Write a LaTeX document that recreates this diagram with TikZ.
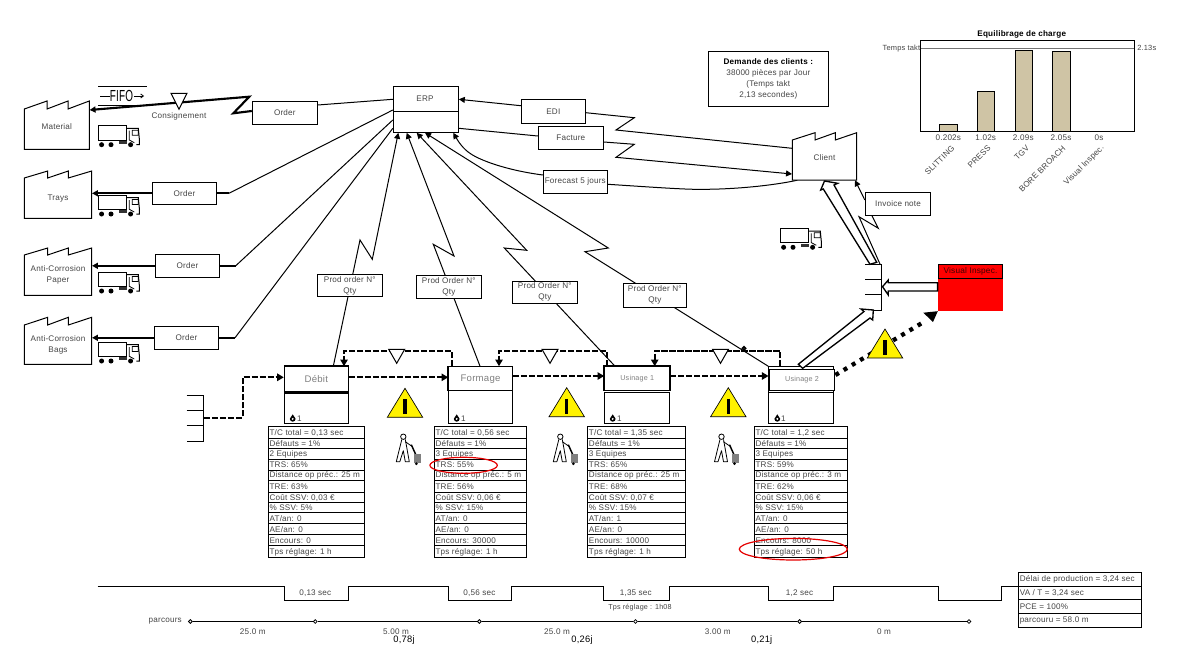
\documentclass[tikz,border=0pt]{standalone}
\usepackage{fontspec}
\setmainfont[LetterSpace=2.5]{Liberation Sans}
\usetikzlibrary{arrows.meta,calc}
\pgfdeclarelayer{bglines}
\pgfsetlayers{bglines,main}
\definecolor{txtgray}{HTML}{454545}
\definecolor{namegray}{HTML}{808080}
\definecolor{bartan}{HTML}{CFC4A5}
\tikzset{
  base/.style={font=\fontsize{6.1}{8.2}\selectfont,text=txtgray,inner sep=0pt},
  boxn/.style={base,draw=black,fill=white,align=center,line width=.75pt},
  txt/.style={base,align=center},
  conn/.style={line width=.75pt},
  tip/.style={-{Triangle[length=4.5pt,width=4.5pt]}},
  heavy/.style={line width=1.6pt},
  flow/.style={line width=1.5pt,dash pattern=on 4.6pt off 1.4pt},
  flowtip/.style={-{Triangle[length=5pt,width=5.5pt]}},
  warn/.style={draw=black,fill=yellow,line width=.5pt},
  push/.style={draw=black,fill=white,line width=1pt,line join=miter},
}
\newcommand\bx[6][]{\node[boxn,minimum width={(#5-#3)*0.75pt},minimum height={(#6-#4)*0.75pt},#1] (#2) at ({(#3+#5)/2},{(#4+#6)/2})}
\newcommand\tx[4][]{\node[txt,#1] (#2) at (#3) {#4};}
\newcommand\factory[9]{%
  \draw[line width=.75pt,fill=white] (#2,#5) -- (#7,#4) -- (#7,#5) -- (#8,#4) -- (#8,#5) -- (#3,#4) -- (#3,#6) -- (#2,#6) -- cycle;
  \node[txt,minimum width={(#3-#2)*0.75pt},minimum height={(#6-#5)*0.75pt}] (#1) at ({(#2+#3)/2},{(#5+#6)/2}) {#9};}
\newcommand\truck[2]{\begin{scope}[shift={(#1,#2)}]
  \draw[line width=.75pt,fill=white] (0,0) rectangle (28.3,14.3);
  \draw[line width=.75pt] (28.3,2.7) -- (40,2.7) -- (41,13) -- (41,19) -- (38,19);
  \draw[line width=.6pt] (34,4.5) rectangle (40,9.5) (31,5) -- (31,14.3) -- (36,17);
  \fill[black!80] (21,15.3) rectangle (28.3,18.3);
  \fill (3.3,19) circle (2.5) (12.7,19) circle (2.5) (32.3,19) circle (2.5);
\end{scope}}
\newcommand\invtri[3]{\draw[line width=.75pt,fill=white] ({#1-8},#2) -- ({#1+8},#2) -- (#1,#3) -- cycle;}
\newcommand\warning[3]{\begin{scope}[shift={(#1,#2)}]
  \draw[warn] (-17.7,29) -- (17.7,29) -- (0,0) -- cycle;
  \draw[line width=#3,line cap=butt] (0,11) -- (0,26);
\end{scope}}
\newcommand\walker[2]{\begin{scope}[shift={(#1,#2)}]
  \draw[line width=.6pt] (0,0) circle (2.7);
  \draw[line width=.6pt,line join=round] (-1.5,2.7) -- (-7,25) -- (-3.5,25) -- (0,14) -- (2,25) -- (6,25) -- (2,2.7);
  \draw[line width=.6pt] (2,5) -- (8.5,9.5);
  \draw[line width=1.1pt] (8,8) -- (12.5,18);
  \fill[black!50] (10.7,17) rectangle (17.7,26.5);
  \fill (13,27) circle (1.5);
\end{scope}}
\newcommand\opicon[4]{\fill (#2,{#3-4}) -- ({#2+2.9},{#3+.5}) arc (0:180:2.9) -- cycle;
  \fill[white] (#2,{#3+.6}) circle (1.1);
  \node[txt] (#1) at (#4,#3) {1};}
\newcommand\shipbox[4]{%
  \node[minimum width=0pt,minimum height=0pt,inner sep=0pt] (#1) at (#3,{#4+22}) {};
  \draw[line width=.75pt] (#2,#4) -- (#3,#4) -- (#3,{#4+45.5}) -- (#2,{#4+45.5}) (#2,{#4+14.5}) -- (#3,{#4+14.5}) (#2,{#4+30}) -- (#3,{#4+30});}
\newcommand\datatable[4]{%
  \foreach \t [count=\i] in {#4} {
    \pgfmathsetmacro\ya{{426.3,438.3,448.3,459.3,470,480.3,492.3,502.3,512.7,523.7,534.7,545.7,557.3}[\i-1]}
    \pgfmathsetmacro\yb{{426.3,438.3,448.3,459.3,470,480.3,492.3,502.3,512.7,523.7,534.7,545.7,557.3}[\i]}
    \draw[line width=.75pt] (#2,\ya) rectangle (#3,\yb);
    \node[txt,anchor=west] (#1r\i) at ({#2+1},{(\ya+\yb)/2+.5}) {\t};
  }}
\begin{document}
\begin{tikzpicture}[x=0.75pt,y=-0.75pt,line width=.75pt]
\useasboundingbox (0,0) rectangle (1185,653);
\begin{pgfonlayer}{bglines}
\fill[white] (0,0) rectangle (1185,653);
\end{pgfonlayer}

% ---------- factories
\factory{material}{24.3}{89.3}{101}{109}{149.3}{47}{68}{\raisebox{3.5pt}{Material}}
\factory{trays}{24.3}{91.7}{171}{178}{218.3}{47.7}{68.3}{Trays}
\factory{paper}{24.3}{91.7}{248}{255}{295.3}{47.7}{68.3}{Anti-Corrosion\\Paper}
\factory{bags}{24.3}{91.7}{317.3}{325}{364.3}{47.7}{68.3}{Anti-Corrosion\\Bags}
\factory{client}{792.3}{856.7}{132.7}{140}{180}{815}{835.3}{\raisebox{3pt}{Client}}

% ---------- trucks
\truck{98.3}{125.7}
\truck{98.3}{195}
\truck{98.3}{272}
\truck{98.3}{342}
\truck{780.3}{228.3}

% ---------- FIFO
\draw[line width=.75pt] (98.3,86) -- (146.7,86) (98.3,105) -- (146.7,105);
\node[txt,text=black,font=\fontsize{12}{12}\selectfont,xscale=.62] (fifo) at (121.5,96) {FIFO};
\draw[line width=.6pt] (100,96) -- (110,96);
\draw[line width=.6pt,-{Straight Barb[length=2pt,width=3pt]}] (134,96) -- (144,96);
\tx{consig}{179,116}{Consignement}

% ---------- information boxes
\bx{erp}{393.3}{86.7}{458.3}{132.3} {};
\draw[line width=.75pt] (erp.west |- 0,111.3) -- (erp.east |- 0,111.3);
\tx{erplabel}{425,99}{ERP}
\bx{ordm}{252.3}{101.3}{317.3}{124.3} {Order};
\bx{ordt}{152.3}{182.3}{216.7}{204.3} {Order};
\bx{ordp}{155.3}{254.3}{219.7}{277.3} {Order};
\bx{ordb}{154.3}{326.3}{218.7}{349.3} {Order};
\bx{pod}{317.3}{274.3}{382.3}{296.7} {Prod order N°\\Qty};
\bx{pof}{416.3}{275.3}{481.3}{298.7} {Prod Order N°\\Qty};
\bx{pou}{512.3}{281.3}{577.3}{303.3} {Prod Order N°\\Qty};
\bx{pov}{623.3}{283.3}{686.3}{307.3} {Prod Order N°\\Qty};
\bx{edi}{521.3}{99.3}{585.3}{123.3} {EDI};
\bx{fact}{538.3}{126.3}{603.3}{149.3} {Facture};
\bx{fore}{543.3}{170.3}{607.3}{193.3} {Forecast 5 jours};
\bx{inv}{865.3}{192.7}{930.7}{215.3} {Invoice note};
\bx{demand}{708.3}{51.7}{828.3}{106.3} {{\color{black}\bfseries Demande des clients :}\\38000 pièces par Jour\\(Temps takt\\2,13 secondes)};

% ---------- process boxes
\bx[font=\fontsize{7.2}{8}\selectfont,text=namegray]{debit}{284.3}{366.7}{348.3}{392} {Débit};
\bx{debitb}{284.3}{392}{348.3}{423.3} {};
\bx[font=\fontsize{7.2}{8}\selectfont,text=namegray]{formage}{448.7}{366.7}{512.3}{390.7} {Formage};
\bx{formageb}{448.7}{390.7}{512.3}{423.3} {};
\bx[font=\fontsize{5.4}{8}\selectfont,text=namegray]{us1}{604.7}{366.7}{669.7}{390} {Usinage 1};
\bx{us1b}{604.7}{392.3}{669.7}{423.3} {};
\bx{us2o}{768.7}{366.7}{833.7}{392} {};
\bx{us2b}{768.7}{392}{833.7}{423.3} {};
\bx[font=\fontsize{5.4}{8}\selectfont,text=namegray,line width=1.1pt]{us2}{769.3}{369.3}{834.7}{390.7} {Usinage 2};
\draw[line width=1.6pt] (debit.north west) -- (debit.north east) (debit.south west) -- (debit.south east);
\draw[line width=1.3pt] (us1.north west) rectangle (us1.south east);
\draw[line width=1.3pt] (formage.north west) -- (formage.south west);

\opicon{opd}{292.7}{418.3}{299.5}
\opicon{opf}{456.7}{418.3}{463.5}
\opicon{opu}{612.7}{418.3}{619.5}
\opicon{opv}{777.3}{418.3}{783.5}

% ---------- data tables
\datatable{td}{268.3}{364.3}{{T/C total = 0,13 sec},{Défauts = 1\%},{2 Equipes},{TRS: 65\%},{Distance op préc.: 25 m},{TRE: 63\%},{Coût SSV: 0,03 €},{\% SSV: 5\%},{AT/an: 0},{AE/an: 0},{Encours: 0},{Tps réglage: 1 h}}
\datatable{tf}{434.3}{526.7}{{T/C total = 0,56 sec},{Défauts = 1\%},{3 Equipes},{TRS: 55\%},{Distance op préc.: 5 m},{TRE: 56\%},{Coût SSV: 0,06 €},{\% SSV: 15\%},{AT/an: 0},{AE/an: 0},{Encours: 30000},{Tps réglage: 1 h}}
\datatable{tu}{587.7}{685.7}{{T/C total = 1,35 sec},{Défauts = 1\%},{3 Equipes},{TRS: 65\%},{Distance op préc.: 25 m},{TRE: 68\%},{Coût SSV: 0,07 €},{\% SSV: 15\%},{AT/an: 1},{AE/an: 0},{Encours: 10000},{Tps réglage: 1 h}}
\datatable{tv}{754.3}{847.7}{{T/C total = 1,2 sec},{Défauts = 1\%},{3 Equipes},{TRS: 59\%},{Distance op préc.: 3 m},{TRE: 62\%},{Coût SSV: 0,06 €},{\% SSV: 15\%},{AT/an: 0},{AE/an: 0},{Encours: 8000},{Tps réglage: 50 h}}
\draw[red!90!black,line width=.9pt] (463.6,465.3) ellipse [x radius=33.7,y radius=8];
\draw[red!90!black,line width=.9pt] (793.3,549.2) ellipse [x radius=54,y radius=10.8];

% ---------- shipping boxes
\shipbox{shipin}{186.7}{203.7}{395.7}
\shipbox{shipout}{865}{881.7}{264.7}

% ---------- red box
\bx[fill=red,draw=none]{visual}{938.3}{264.3}{1002.7}{310.7} {};
\bx[fill=red,line width=1pt,text=red!25!black,font=\fontsize{6.2}{8}\selectfont]{visualt}{938.3}{264.3}{1002.7}{278.3} {Visual Inspec.};

% ---------- connectors (behind boxes)
\begin{pgfonlayer}{bglines}
\draw[heavy,line join=miter,tip] (ordm.west |- 0,111) -- (233.3,113.3) -- (249.3,96.7) -- (material.east |- 0,110);
\draw[conn] (ordm.east |- 0,105) -- (erp.west |- 0,99.3);
\draw[heavy,tip] (ordt.west) -- (trays.east |- ordt.west);
\draw[heavy] (ordt.east) -- (229,193.3);
\draw[conn] (229,193.3) -- (erp.west |- 0,110);
\draw[heavy,tip] (ordp.west) -- (paper.east |- ordp.west);
\draw[heavy] (ordp.east) -- (235.7,265.8);
\draw[conn] (235.7,265.8) -- (erp.west |- 0,120);
\draw[heavy,tip] (ordb.west) -- (bags.east |- ordb.west);
\draw[heavy] (ordb.east) -- (235,337.8);
\draw[conn] (235,337.8) -- (erp.west |- 0,128.3);

\draw[conn,tip] (debit.north -| 333.3,0) -- (360,240) -- (372.3,259.3) -- (398.3,0 |- erp.south);
\draw[conn,tip] (formage.north -| 480,0) -- (433.3,244.3) -- (454,256) -- (406.7,0 |- erp.south);
\draw[conn,tip] (us1.north -| 615,0) -- (504.3,248) -- (526.7,250.3) -- (416.7,0 |- erp.south);
\draw[conn,tip] (us2o.north west) -- (585,251.7) -- (608.3,248) -- (425,0 |- erp.south);

\draw[conn] (client.west |- 0,148.3) -- (616,130) -- (634.3,117.7) -- (edi.east |- 0,112.7);
\draw[conn,tip] (edi.west |- 0,105.7) -- (erp.east |- 0,99.3);
\draw[conn] (erp.east |- 0,128.3) -- (fact.west |- 0,136);
\draw[conn,tip] (fact.east |- 0,142) -- (634.3,144.3) -- (616,157.3) -- (client.west |- 0,174);
\draw[conn,tip] (fore.west |- 0,175) .. controls (505,170) and (480,160) .. (471,154) .. controls (463,149) and (458,141) .. (453.3,0 |- erp.south);
\draw[conn] (fore.east |- 0,184.3) .. controls (650,187) and (690,190) .. (706.7,189.3) .. controls (735,189) and (770,186) .. (797.3,0 |- client.south);
\draw[conn,tip] (inv.west |- 0,200) -- (855,0 |- client.south);
\draw[conn] (shipout.east |- 0,264.7) ++(-1.7,0) -- (859,216.7) -- (878.3,228.3) -- (872,0 |- inv.south);

% dashed pull loops
\draw[flow,flowtip] (formage.north west -| 451.7,0) -- (451.7,350.7) -- (344,350.7) -- (344,0 |- debit.north);
\draw[flow,flowtip] (us1.north west -| 606.7,0) -- (606.7,350.7) -- (499,350.7) -- (499,0 |- formage.north);
\draw[flow,flowtip] (780,0 |- us2o.north) -- (780,350.7) -- (654.7,350.7) -- (654.7,0 |- us1.north);
% dashed main flow
\draw[flow,flowtip] (shipin.east |- 0,417.7) -- (242.7,417.7) -- (242.7,377.3) -- (debit.west |- 0,377.3);
\draw[flow,flowtip] (debit.east |- 0,377.3) -- (formage.west |- 0,377.3);
\draw[flow,flowtip] (formage.east |- 0,376) -- (us1.west |- 0,376);
\draw[flow,flowtip] (us1.east |- 0,376) -- (us2.west |- 0,376);
\end{pgfonlayer}
\draw[line width=1.2pt] (744,348.3) circle (1.6);

% dotted heavy arrow
\draw[line width=3.2pt,dash pattern=on 3pt off 4.2pt] (us2.east |- 0,375) -- (922,323);
\fill (visual.south west) -- (923.3,312.7) -- (933,322) -- cycle;

% hollow push arrows
\draw[push] (visualt.west |- 0,282.7) -- (888.3,282.7) -- (888.3,280) -- (882.5,286.7) -- (888.3,295) -- (888.3,291) -- (visualt.west |- 0,291) -- cycle;
\draw[push] (798.3,364.3) -- (864,311.5) -- (861,309) -- (873.3,310) -- (872.7,320) -- (870,318) -- (802.7,368.3) -- cycle;
\draw[push] (870,264.3) -- (823.3,189) -- (820.7,190) -- (824.5,181) -- (837.7,183.3) -- (834,185) -- (876.7,262.3) -- cycle;

% inventory triangles
\invtri{179}{93.3}{109.3}
\invtri{396.7}{349.3}{363.3}
\invtri{550}{349.3}{363.3}
\invtri{720.5}{349.3}{363.3}

% warning triangles
\warning{405}{388.3}{3.2pt}
\warning{566.7}{387.7}{1.9pt}
\warning{728.3}{387.7}{1.9pt}
\warning{885}{329}{3pt}

% walkers
\walker{403.3}{436.7}
\walker{560.3}{436.7}
\walker{721.5}{436.7}

% ---------- chart
\draw[line width=.75pt,fill=white] (920.7,40.7) rectangle (1134.3,131);
\foreach \xa/\xb/\yt in {939.3/957.7/124.3,977.3/994.7/91.3,1015.3/1032.7/50.3,1052.7/1070.7/51.3}
  \draw[line width=.75pt,fill=bartan] (\xa,131) rectangle (\xb,\yt);
\draw[black!55,line width=.8pt] (920.7,48.3) -- (1134.3,48.3);
\node[txt,text=black,font=\fontsize{6.1}{8}\selectfont\bfseries] (charttitle) at (1021.7,34) {Equilibrage de charge};
\tx[anchor=east,font=\fontsize{5.6}{7}\selectfont]{takt}{920.5,48.3}{Temps takt}
\tx[anchor=west,font=\fontsize{5.6}{7}\selectfont]{taktv}{1137,48.3}{2.13s}
\tx{v1}{948.3,137.3}{0.202s}
\tx{v2}{985.7,137.3}{1.02s}
\tx{v3}{1023.3,137.3}{2.09s}
\tx{v4}{1061,137.3}{2.05s}
\tx{v5}{1099,137.3}{0s}
\tx[anchor=east,rotate=45]{l1}{953.3,146.7}{SLITTING}
\tx[anchor=east,rotate=45]{l2}{989.3,146.7}{PRESS}
\tx[anchor=east,rotate=45]{l3}{1028,146.7}{TGV}
\tx[anchor=east,rotate=45]{l4}{1064.3,146.7}{BORE BROACH}
\tx[anchor=east,rotate=45]{l5}{1103,146.7}{Visual Inspec.}

% ---------- timeline
\draw[line width=.75pt] (97.6,586.5) -- (284.4,586.5) -- (284.4,600) -- (348,600) -- (348,586.5) -- (448,586.5) -- (448,600) -- (511.7,600) -- (511.7,586.5) -- (603.9,586.5) -- (603.9,600) -- (669,600) -- (669,586.5) -- (768.6,586.5) -- (768.6,600) -- (833.3,600) -- (833.3,586.5) -- (938.2,586.5) -- (938.2,600) -- (1001.8,600) -- (1001.8,586.5) -- (1018,586.5);
\tx{s1}{315.3,593.5}{0,13 sec}
\tx{s2}{479.4,593.5}{0,56 sec}
\tx{s3}{635.8,593.5}{1,35 sec}
\tx{s4}{799.6,593.5}{1,2 sec}
\tx[font=\fontsize{5.4}{7}\selectfont]{setup}{640,607.5}{Tps réglage :  1h08}
\tx[anchor=east]{parc}{182,621.5}{parcours}
\foreach \n/\xx in {p1/190.4,p2/315.3,p3/479.4,p4/635.5,p5/799.6,p6/969} \node[circle,draw=black,fill=white,line width=.6pt,inner sep=0pt,minimum size=2.8pt] (\n) at (\xx,621.5) {};
\begin{pgfonlayer}{bglines}
\draw[line width=.75pt] (p1) -- (p2) -- (p3) -- (p4) -- (p5) -- (p6);
\end{pgfonlayer}
\tx{d1}{252.7,631.5}{25.0 m}
\tx{d2}{396,631.5}{5.00 m}
\tx{d3}{557,631.5}{25.0 m}
\tx{d4}{717.7,631.5}{3.00 m}
\tx{d5}{884,631.5}{0 m}
\tx[text=black,font=\fontsize{7}{8}\selectfont]{j1}{404,640.5}{0,78j}
\tx[text=black,font=\fontsize{7}{8}\selectfont]{j2}{582,640.5}{0,26j}
\tx[text=black,font=\fontsize{7}{8}\selectfont]{j3}{761.7,640.5}{0,21j}

% ---------- summary table
\foreach \n/\ya/\yb/\t in {a/572/586/{Délai de production = 3,24 sec},b/586/599.6/{VA / T  = 3,24 sec},c/599.6/613.3/{PCE = 100\%},d/613.3/627/{parcouru = 58.0 m}} {
  \draw[line width=.75pt] (1018,\ya) rectangle (1141,\yb);
  \node[txt,anchor=west] (sum\n) at (1019.5,{(\ya+\yb)/2}) {\t};
}
\end{tikzpicture}
\end{document}
